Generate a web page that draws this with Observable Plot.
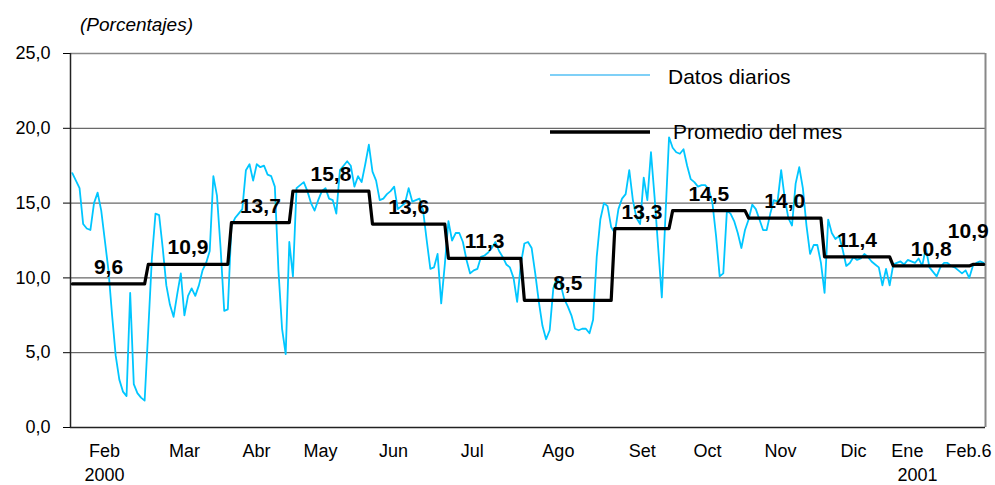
<!DOCTYPE html>
<html><head><meta charset="utf-8">
<script src="https://cdn.jsdelivr.net/npm/d3@7"></script>
<script src="https://cdn.jsdelivr.net/npm/@observablehq/plot@0.6"></script>
<style>
body{margin:0;background:#fff;}
#wrap{position:relative;width:995px;height:485px;}
#wrap svg{position:absolute;left:0;top:0;}
</style></head><body><div id="wrap"></div>
<script>
// Monthly categories and averages
const monthNames = ["Feb","Mar","Abr","May","Jun","Jul","Ago","Set","Oct","Nov","Dic","Ene","Feb"];
const monthAvg = [9.6,10.9,13.7,15.8,13.6,11.3,8.5,13.3,14.5,14.0,11.4,10.8,10.9];

// Daily data (business days) per month
const feb00 = [17.0,16.5,16.0,13.6,13.3,13.2,15.0,15.7,14.5,12.5,10.5,7.5,4.8,3.2,2.4,2.1,9.0,2.9,2.3,2.0,1.8];
const mar00 = [6.5,11.3,14.3,14.2,12.0,9.5,8.2,7.4,8.9,10.3,7.5,8.8,9.3,8.8,9.5,10.5,11.0,11.8,16.8,15.5,12.0,7.8,7.9];
const abr00 = [13.5,14.0,14.3,14.6,17.2,17.6,16.5,17.6,17.4,17.5,16.9,16.8,16.1,10.5,6.6,4.9,12.4];
const may00 = [10.1,16.0,16.2,16.4,15.8,15.0,14.5,15.2,15.8,16.0,15.3,15.2,14.3,17.2,17.5,17.8,17.5,16.1,16.8,16.4,17.6,18.9];
const jun00 = [17.1,16.5,15.2,15.3,15.6,15.8,16.1,14.6,14.8,15.0,16.0,15.1,15.2,15.3,14.5,12.5,10.6,10.7,11.6,8.3,10.9];
const jul00 = [13.8,12.5,13.0,13.0,12.4,11.2,10.3,10.5,10.6,11.4,11.5,11.7,12.0,12.4,11.8,11.4,10.9,10.7,10.0,8.4,10.9];
const ago00 = [12.3,12.4,12.0,10.3,8.4,6.8,5.9,6.5,9.3,10.0,9.6,8.6,8.1,7.5,6.6,6.5,6.6,6.6,6.3,7.2,11.4,13.9,15.0,14.8,13.4];
const set00 = [13.0,14.6,15.3,15.6,17.2,15.2,14.0,13.6,16.7,15.2,18.4,15.4,12.0,8.7,14.1,19.4];
const oct00 = [18.7,18.4,18.3,18.6,17.5,16.6,16.4,16.1,16.2,16.2,15.9,15.0,12.8,10.1,10.3,14.5,14.3,13.8,13.0,12.0,13.2];
const nov00 = [13.9,14.9,14.6,13.9,13.2,13.2,14.3,15.2,15.1,17.2,15.3,14.0,13.5,16.3,17.4,16.0,13.5,11.6,12.2,12.2,11.0];
const dic00 = [9.0,13.9,13.0,12.6,12.8,11.9,10.8,11.0,11.4,11.2,11.3,11.6,11.4,11.1,10.9,10.7,9.5,10.6,9.5];
const ene01 = [10.9,11.0,11.1,10.9,11.2,11.1,11.0,11.3,10.8,12.0,10.7,10.4,10.1,10.7,11.0,11.0,10.8,10.7,10.5,10.3,10.5,10.0];
const feb01 = [10.8,11.0,11.1,11.0];

// Axis tick labels (positions in business-day index)
const xTickPos = [8.9,31,50.9,68.6,88.8,110.6,134.4,157.6,175.6,195.8,216,230.9,247.8];
const xTickLabels = ["Feb","Mar","Abr","May","Jun","Jul","Ago","Set","Oct","Nov","Dic","Ene","Feb.6"];
const yearPos = [8.9,233.7];
const yearLabels = ["2000","2001"];
const yTicks = [0,5,10,15,20,25];

const series = [feb00,mar00,abr00,may00,jun00,jul00,ago00,set00,oct00,nov00,dic00,ene01,feb01];
const daily = [], steps = [], labels = [];
let idx = 0;
series.forEach((arr, m) => {
  const start = idx;
  arr.forEach(v => daily.push({i: idx++, v}));
  const end = idx - 1;
  steps.push({i: start, v: monthAvg[m]}, {i: end, v: monthAvg[m]});
  labels.push({i: (start + end) / 2, v: monthAvg[m], last: m === series.length - 1});
});
const N = idx;
const fmt = v => v.toFixed(1).replace(".", ",");
const xLabelMap = new Map(xTickPos.map((p, k) => [p, xTickLabels[k]]));
const years = yearPos.map((p, k) => ({i: p, label: yearLabels[k]}));

const chart = Plot.plot({
  width: 995, height: 485,
  marginLeft: 70, marginRight: 10, marginTop: 53, marginBottom: 58,
  style: {fontFamily: "'Liberation Sans', Arial, sans-serif", fontSize: "18px", color: "#000", background: "#fff"},
  x: {domain: [-0.5, N - 0.5], axis: null},
  y: {domain: [0, 25], axis: null},
  marks: [
    Plot.ruleY([5,10,15,20], {stroke: "#444", strokeWidth: 1}),
    Plot.ruleY([25], {stroke: "#888", strokeWidth: 1.5}),
    Plot.ruleX([N - 0.5], {stroke: "#888", strokeWidth: 2}),
    Plot.line(daily, {x: "i", y: "v", stroke: "#00c6ff", strokeWidth: 1.8}),
    Plot.line(steps, {x: "i", y: "v", stroke: "#000", strokeWidth: 3.2}),
    Plot.text(labels.filter(d => !d.last), {x: "i", y: "v", text: d => fmt(d.v), dy: -10, lineAnchor: "bottom", fontWeight: "bold", fontSize: 21, fill: "#000"}),
    Plot.text(labels.filter(d => d.last), {x: "i", y: "v", text: d => fmt(d.v), dx: -10, dy: -26, lineAnchor: "bottom", fontWeight: "bold", fontSize: 21, fill: "#000"}),
    Plot.axisY({ticks: yTicks, tickSize: 7, tickPadding: 13, tickFormat: fmt, label: null, fontSize: 18}),
    Plot.axisX({ticks: xTickPos, tickSize: 0, tickPadding: 17, tickFormat: d => xLabelMap.get(d), label: null, fontSize: 18}),
    Plot.text(years, {x: "i", text: "label", frameAnchor: "bottom", dy: 53, lineAnchor: "bottom", fontSize: 18, fill: "#000"}),
    Plot.ruleX([-0.5], {stroke: "#222", strokeWidth: 1.5}),
    Plot.ruleY([0], {stroke: "#222", strokeWidth: 1.5})
  ]
});
document.getElementById("wrap").appendChild(chart);

// Overlay: subtitle and legend
const ov = d3.select("#wrap").append("svg").attr("width", 995).attr("height", 485)
  .style("pointer-events", "none")
  .style("font-family", "'Liberation Sans', Arial, sans-serif");
ov.append("text").attr("x", 80).attr("y", 31).attr("font-size", 19).attr("font-style", "italic").text("(Porcentajes)");
ov.append("line").attr("x1", 550).attr("x2", 650).attr("y1", 75).attr("y2", 75).attr("stroke", "#55c0f5").attr("stroke-width", 1.5);
ov.append("text").attr("x", 668).attr("y", 84).attr("font-size", 21).text("Datos diarios");
ov.append("line").attr("x1", 550).attr("x2", 650).attr("y1", 132).attr("y2", 132).attr("stroke", "#000").attr("stroke-width", 3.5);
ov.append("text").attr("x", 673).attr("y", 139).attr("font-size", 21).text("Promedio del mes");
</script></body></html>
